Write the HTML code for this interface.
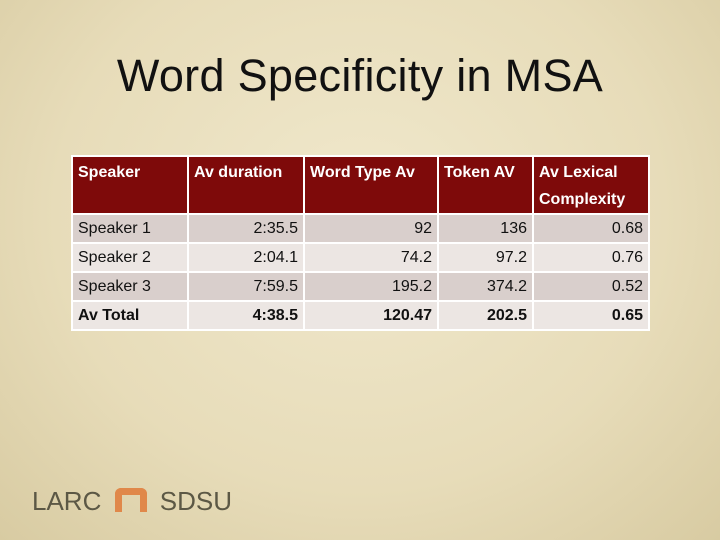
<!DOCTYPE html>
<html><head><meta charset="utf-8"><style>
body{margin:0;width:720px;height:540px;overflow:hidden;font-family:"Liberation Sans",sans-serif}
#slide{position:relative;width:720px;height:540px;background:radial-gradient(ellipse at 50% 40%,#f0e8cc 0%,#e7dcb9 60%,#d8cba2 100%)}
h1{position:absolute;top:50px;left:0;width:720px;margin:0;text-align:center;font-weight:normal;font-size:45px;color:#111;letter-spacing:0.3px}
table{position:absolute;left:71px;top:155px;border-collapse:collapse;font-family:"Liberation Sans",sans-serif;font-size:16px;color:#111}
td,th{border:2px solid #fff;padding:0 5px;box-sizing:border-box}
th{background:#7e0a0a;color:#fff;text-align:left;vertical-align:top;font-weight:bold;height:56px;padding-top:2px;line-height:27px}
td{text-align:right;line-height:25px;height:29px}
td:first-child{text-align:left}
tr.r1 td,tr.r3 td{background:#d9cfcc}
tr.r2 td,tr.r4 td{background:#ece6e3}
tr.r4 td{font-weight:bold}
#logo{position:absolute;left:32px;top:486px;font-size:26px;color:#5c5845}
</style></head><body>
<div id="slide">
<h1>Word Specificity in MSA</h1>
<table>
<tr><th style="width:116px">Speaker</th><th style="width:116px">Av duration</th><th style="width:134px">Word Type Av</th><th style="width:95px">Token AV</th><th style="width:116px">Av Lexical Complexity</th></tr>
<tr class="r1"><td>Speaker 1</td><td>2:35.5</td><td>92</td><td>136</td><td>0.68</td></tr>
<tr class="r2"><td>Speaker 2</td><td>2:04.1</td><td>74.2</td><td>97.2</td><td>0.76</td></tr>
<tr class="r3"><td>Speaker 3</td><td>7:59.5</td><td>195.2</td><td>374.2</td><td>0.52</td></tr>
<tr class="r4"><td>Av Total</td><td>4:38.5</td><td>120.47</td><td>202.5</td><td>0.65</td></tr>
</table>
<div id="logo">LARC <span style="display:inline-block;width:32px;height:24px;border:7px solid #e0884a;border-bottom:none;border-radius:6px 6px 0 0;box-sizing:border-box;vertical-align:-2px;margin:0 6px"></span> SDSU</div>
</div>
</body></html>
